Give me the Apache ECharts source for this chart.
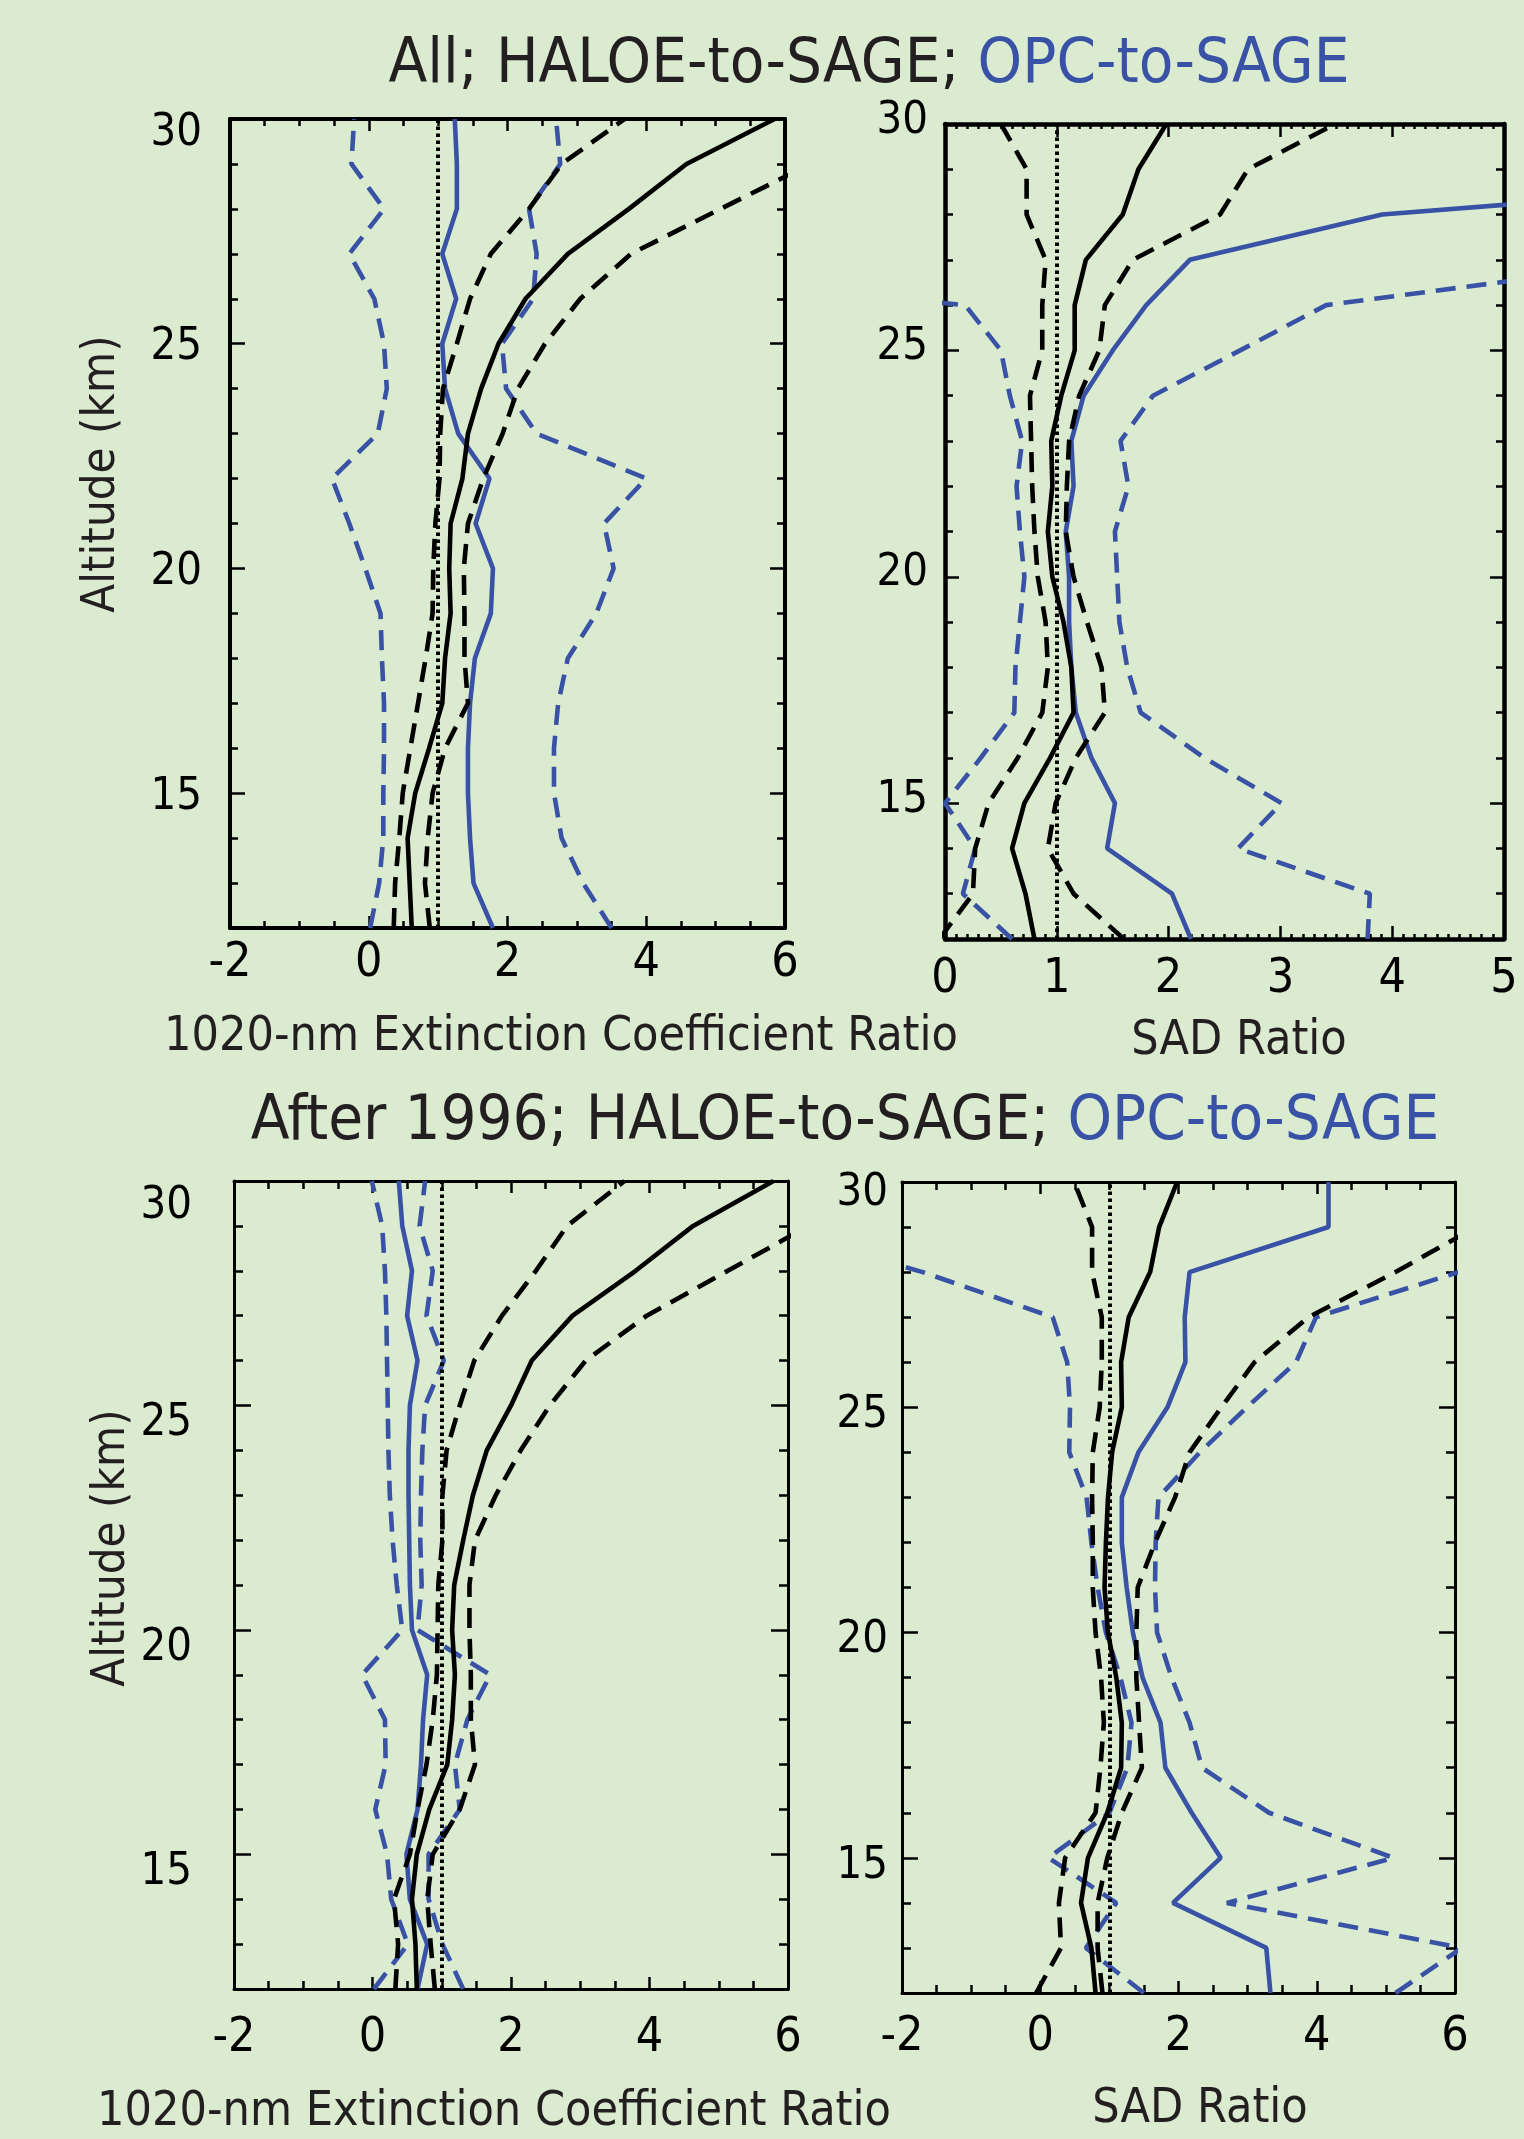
<!DOCTYPE html>
<html>
<head>
<meta charset="utf-8">
<title>HALOE / OPC to SAGE ratios</title>
<script src="https://cdn.jsdelivr.net/npm/echarts@6/dist/echarts.min.js"></script>
<style>
  html, body { margin: 0; padding: 0; background: #daebd0; }
  #chart { width: 1524px; height: 2139px; }
</style>
</head>
<body>
<div id="chart"></div>
<script>
// Altitude levels (km) shared by every profile
const altitudes = [12, 13, 14, 15, 16, 17, 18, 19, 20, 21, 22, 23, 24, 25, 26, 27, 28, 29, 30];
const yTickValues = [15, 20, 25, 30];

// All years, 1020-nm extinction ratio
const extHaloeMed = [0.62, 0.59, 0.56, 0.67, 0.87, 1.06, 1.10, 1.18, 1.16, 1.18, 1.35, 1.43, 1.62, 1.87, 2.26, 2.87, 3.75, 4.58, 5.85];
const extHaloeLo  = [0.36, 0.38, 0.44, 0.49, 0.60, 0.71, 0.82, 0.92, 0.93, 0.96, 1.02, 1.03, 1.07, 1.27, 1.46, 1.76, 2.31, 2.78, 3.69];
const extHaloeHi  = [0.88, 0.81, 0.85, 0.92, 1.10, 1.43, 1.38, 1.38, 1.37, 1.43, 1.65, 1.93, 2.15, 2.54, 3.05, 3.78, 5.07, 6.37, 7.20];
const extOpcMed   = [1.79, 1.51, 1.46, 1.43, 1.43, 1.46, 1.53, 1.76, 1.79, 1.54, 1.74, 1.29, 1.10, 1.06, 1.26, 1.06, 1.27, 1.27, 1.24];
const extOpcLo    = [0.02, 0.15, 0.21, 0.21, 0.22, 0.22, 0.19, 0.17, -0.05, -0.28, -0.53, 0.13, 0.26, 0.22, 0.08, -0.28, 0.22, -0.25, -0.21];
const extOpcHi    = [3.50, 3.09, 2.78, 2.67, 2.67, 2.73, 2.87, 3.28, 3.53, 3.39, 4.00, 2.42, 1.98, 1.92, 2.37, 2.42, 2.31, 2.76, 2.70];

// All years, SAD ratio
const sadHaloeMed = [0.80, 0.72, 0.60, 0.71, 0.94, 1.15, 1.13, 1.06, 0.96, 0.92, 0.96, 0.95, 1.04, 1.16, 1.16, 1.26, 1.59, 1.73, 1.98];
const sadHaloeLo  = [-0.05, 0.25, 0.27, 0.39, 0.65, 0.87, 0.92, 0.90, 0.83, 0.80, 0.78, 0.77, 0.76, 0.87, 0.87, 0.90, 0.73, 0.73, 0.50];
const sadHaloeHi  = [1.60, 1.15, 0.92, 0.99, 1.17, 1.43, 1.40, 1.27, 1.15, 1.08, 1.09, 1.11, 1.20, 1.38, 1.43, 1.68, 2.46, 2.71, 3.49];
const sadOpcMed   = [2.20, 2.03, 1.45, 1.52, 1.31, 1.17, 1.13, 1.11, 1.11, 1.08, 1.15, 1.13, 1.24, 1.50, 1.80, 2.19, 3.91, 9.00, 10.0];
const sadOpcLo    = [0.60, 0.16, 0.27, 0.00, 0.32, 0.62, 0.63, 0.67, 0.71, 0.67, 0.64, 0.69, 0.58, 0.50, 0.18, -4.0, -4.0, -4.0, -4.0];
const sadOpcHi    = [3.78, 3.80, 2.62, 3.01, 2.32, 1.75, 1.63, 1.56, 1.54, 1.52, 1.64, 1.57, 1.86, 2.64, 3.41, 6.50, 7.00, 7.00, 7.00];

// After 1996, 1020-nm extinction ratio
const ext2HaloeMed = [0.64, 0.62, 0.57, 0.64, 0.82, 1.08, 1.15, 1.19, 1.15, 1.18, 1.31, 1.45, 1.65, 2.00, 2.30, 2.89, 3.80, 4.63, 5.79];
const ext2HaloeLo  = [0.33, 0.37, 0.31, 0.54, 0.65, 0.78, 0.87, 0.93, 0.94, 0.95, 1.01, 1.01, 1.07, 1.26, 1.47, 1.87, 2.36, 2.81, 3.64];
const ext2HaloeHi  = [0.90, 0.84, 0.79, 0.87, 1.26, 1.48, 1.42, 1.42, 1.40, 1.40, 1.48, 1.78, 2.14, 2.56, 3.08, 3.96, 5.13, 6.30, 7.20];
const ext2OpcMed   = [0.65, 0.79, 0.54, 0.49, 0.65, 0.70, 0.73, 0.79, 0.57, 0.54, 0.53, 0.52, 0.52, 0.54, 0.65, 0.50, 0.57, 0.43, 0.38];
const ext2OpcLo    = [0.02, 0.51, 0.27, 0.21, 0.04, 0.19, 0.18, -0.15, 0.43, 0.35, 0.29, 0.25, 0.23, 0.22, 0.21, 0.20, 0.18, 0.14, -0.01];
const ext2OpcHi    = [1.31, 1.01, 0.81, 0.81, 1.26, 1.19, 1.37, 1.70, 0.65, 0.71, 0.69, 0.70, 0.72, 0.76, 1.03, 0.78, 0.87, 0.68, 0.76];

// After 1996, SAD ratio
const sad2HaloeMed = [0.80, 0.74, 0.59, 0.69, 0.97, 1.17, 1.18, 1.10, 0.98, 0.93, 0.95, 0.98, 1.04, 1.18, 1.17, 1.28, 1.59, 1.72, 1.98];
const sad2HaloeLo  = [-0.06, 0.30, 0.27, 0.36, 0.80, 0.87, 0.92, 0.88, 0.80, 0.76, 0.76, 0.75, 0.76, 0.86, 0.89, 0.89, 0.75, 0.75, 0.49];
const sad2HaloeHi  = [0.90, 0.83, 0.83, 0.97, 1.18, 1.47, 1.43, 1.39, 1.39, 1.41, 1.66, 1.95, 2.16, 2.62, 3.10, 3.88, 5.14, 6.30, 7.00];
const sad2OpcMed   = [3.33, 3.27, 1.92, 2.61, 2.19, 1.81, 1.74, 1.48, 1.34, 1.25, 1.18, 1.18, 1.42, 1.84, 2.10, 2.09, 2.16, 4.17, 4.17];
const sad2OpcLo    = [1.50, 0.66, 1.10, 0.12, 1.00, 1.26, 1.32, 1.16, 0.95, 0.83, 0.74, 0.67, 0.42, 0.43, 0.39, 0.18, -1.70, -4.0, -4.0];
const sad2OpcHi    = [5.14, 6.10, 2.70, 5.11, 3.31, 2.34, 2.16, 1.90, 1.69, 1.66, 1.67, 1.71, 2.31, 2.99, 3.70, 3.99, 6.05, 7.00, 7.00];

const BG = '#daebd0';
const BLUE = '#3a52a5';
const INK = '#231f20';
const LINE_W = 4.6;

// use the narrow DejaVu if the box has it
function pickFont(names) {
  const ctx = document.createElement('canvas').getContext('2d');
  const probe = 'HALOE-to-SAGE 1020';
  ctx.font = '40px monospace';
  const ref = ctx.measureText(probe).width;
  for (const n of names) {
    ctx.font = `40px "${n}", monospace`;
    if (ctx.measureText(probe).width !== ref) return n;
  }
  return 'DejaVu Sans';
}
const FONT = pickFont(['DejaVu Sans Condensed', 'Liberation Sans Narrow']);

// panel boxes, in page pixels
// yShift: how far the y labels sit below their tick (label line height does the shifting)
const panels = [
  { left: 230, top: 119, width: 555, height: 809, xMin: -2, xMax: 6, xStep: 2, xSplit: 4, frame: 4,
    xMajorLen: 12, xMinorLen: 7, yMajorLen: 15, yMinorLen: 8, xLabelGap: 12, yLabelGap: 28, yShift: 1, topShift: 11,
    profiles: [extHaloeMed, extHaloeLo, extHaloeHi, extOpcMed, extOpcLo, extOpcHi] },
  { left: 945, top: 124, width: 559, height: 815, xMin: 0, xMax: 5, xStep: 1, xSplit: 10, frame: 4.5,
    xMajorLen: 13, xMinorLen: 5, yMajorLen: 14, yMinorLen: 8, xLabelGap: 17, yLabelGap: 17, yShift: -6, topShift: -6,
    profiles: [sadHaloeMed, sadHaloeLo, sadHaloeHi, sadOpcMed, sadOpcLo, sadOpcHi] },
  { left: 234, top: 1181, width: 554, height: 808, xMin: -2, xMax: 6, xStep: 2, xSplit: 4, frame: 3,
    xMajorLen: 12, xMinorLen: 8, yMajorLen: 17, yMinorLen: 9, xLabelGap: 26, yLabelGap: 42, yShift: 15, topShift: 22,
    profiles: [ext2HaloeMed, ext2HaloeLo, ext2HaloeHi, ext2OpcMed, ext2OpcLo, ext2OpcHi] },
  { left: 902, top: 1182, width: 553, height: 811, xMin: -2, xMax: 6, xStep: 2, xSplit: 4, frame: 3,
    xMajorLen: 12, xMinorLen: 8, yMajorLen: 16, yMinorLen: 9, xLabelGap: 21, yLabelGap: 14, yShift: 5, topShift: 8,
    profiles: [sad2HaloeMed, sad2HaloeLo, sad2HaloeHi, sad2OpcMed, sad2OpcLo, sad2OpcHi] }
];

const frameLine = (w) => ({ show: true, onZero: false, lineStyle: { color: '#000', width: w } });

function xAxesFor(gi, p) {
  return ['bottom', 'top'].map((pos) => ({
    gridIndex: gi, type: 'value', position: pos,
    min: p.xMin, max: p.xMax, interval: p.xStep,
    axisLine: frameLine(p.frame),
    axisTick: { show: true, inside: true, length: p.xMajorLen, lineStyle: { color: '#000', width: 2.5 } },
    minorTick: { show: true, splitNumber: p.xSplit, length: p.xMinorLen, lineStyle: { color: '#000', width: 2.5 } },
    axisLabel: { show: pos === 'bottom', margin: p.xLabelGap, color: '#000', fontSize: 48, fontFamily: FONT },
    splitLine: { show: false }
  }));
}

// a label box of height 2*(shift+3) hung from (or stood on) the tick moves the glyphs by `shift`
function shiftedLabel(shift) {
  const h = 2 * Math.abs(shift + 3);
  return { verticalAlign: shift + 3 >= 0 ? 'top' : 'bottom', lineHeight: Math.max(h, 1) };
}

function yAxesFor(gi, p) {
  const out = [];
  const base = shiftedLabel(p.yShift);
  const topOne = shiftedLabel(p.topShift);
  ['left', 'right'].forEach((pos) => {
    // 1 km ticks, plus the labels
    out.push({
      gridIndex: gi, type: 'value', position: pos, min: 12, max: 30, interval: 1,
      axisLine: frameLine(p.frame),
      axisTick: { show: true, inside: true, length: p.yMinorLen, lineStyle: { color: '#000', width: 2.5 } },
      axisLabel: {
        show: pos === 'left', customValues: yTickValues, margin: p.yLabelGap,
        color: '#000', fontSize: 45, fontFamily: FONT,
        verticalAlign: base.verticalAlign, lineHeight: base.lineHeight,
        formatter: (v) => (v === 30 ? '{t|30}' : String(v)),
        rich: { t: { fontSize: 45, fontFamily: FONT, color: '#000', lineHeight: topOne.lineHeight } }
      },
      splitLine: { show: false }
    });
    // long ticks every 5 km
    out.push({
      gridIndex: gi, type: 'value', position: pos, min: 12, max: 30,
      axisLine: { show: false, onZero: false },
      axisTick: { show: true, inside: true, length: p.yMajorLen, customValues: yTickValues,
                  lineStyle: { color: '#000', width: 2.5 } },
      axisLabel: { show: false },
      splitLine: { show: false }
    });
  });
  return out;
}

function profile(xs, color, dashed, xi, yi) {
  return {
    type: 'line', xAxisIndex: xi, yAxisIndex: yi, symbol: 'none', silent: true, clip: true,
    data: altitudes.map((a, i) => [xs[i], a]),
    lineStyle: { color: color, width: LINE_W, type: dashed ? [20, 11] : 'solid' }
  };
}

const grid = [], xAxis = [], yAxis = [], series = [];
panels.forEach((p, gi) => {
  grid.push({ left: p.left, top: p.top, width: p.width, height: p.height, outerBoundsMode: 'none' });
  xAxis.push(...xAxesFor(gi, p));
  yAxis.push(...yAxesFor(gi, p));
  const xi = gi * 2, yi = gi * 4;
  const [hMed, hLo, hHi, oMed, oLo, oHi] = p.profiles;
  const med = profile(hMed, '#000', false, xi, yi);
  // ratio = 1 reference line
  med.markLine = {
    symbol: ['none', 'none'], silent: true, label: { show: false }, animation: false,
    lineStyle: { color: '#000', type: [3.5, 3.5], width: 4 },
    data: [{ xAxis: 1 }]
  };
  series.push(
    profile(oLo, BLUE, true, xi, yi),
    profile(oHi, BLUE, true, xi, yi),
    profile(oMed, BLUE, false, xi, yi),
    profile(hLo, '#000', true, xi, yi),
    profile(hHi, '#000', true, xi, yi),
    med
  );
});

const txt = (x, y, text, size, extra) => Object.assign({
  type: 'text', x: x, y: y, silent: true,
  style: { text: text, fill: INK, font: `${size}px "${FONT}"`, align: 'center', verticalAlign: 'middle' }
}, extra || {});

const titleRich = (size) => ({
  k: { fill: INK, fontSize: size, fontFamily: FONT },
  b: { fill: BLUE, fontSize: size, fontFamily: FONT }
});

const graphic = [
  { type: 'text', x: 869, y: 66, silent: true,
    style: { text: '{k|All; HALOE-to-SAGE; }{b|OPC-to-SAGE}', rich: titleRich(63),
             font: `63px "${FONT}"`, align: 'center', verticalAlign: 'middle' } },
  { type: 'text', x: 845, y: 1123, silent: true,
    style: { text: '{k|After 1996; HALOE-to-SAGE; }{b|OPC-to-SAGE}', rich: titleRich(63),
             font: `63px "${FONT}"`, align: 'center', verticalAlign: 'middle' } },
  txt(561, 1038, '1020-nm Extinction Coefficient Ratio', 48),
  txt(1239, 1042, 'SAD Ratio', 48),
  txt(494, 2113, '1020-nm Extinction Coefficient Ratio', 48),
  txt(1200, 2110, 'SAD Ratio', 48),
  txt(102, 474, 'Altitude (km)', 47, { rotation: Math.PI / 2 }),
  txt(112, 1548, 'Altitude (km)', 47, { rotation: Math.PI / 2 })
];

const chart = echarts.init(document.getElementById('chart'), null, { renderer: 'canvas' });
chart.setOption({
  backgroundColor: BG,
  animation: false,
  grid: grid,
  xAxis: xAxis,
  yAxis: yAxis,
  series: series,
  graphic: graphic
});
</script>
</body>
</html>
